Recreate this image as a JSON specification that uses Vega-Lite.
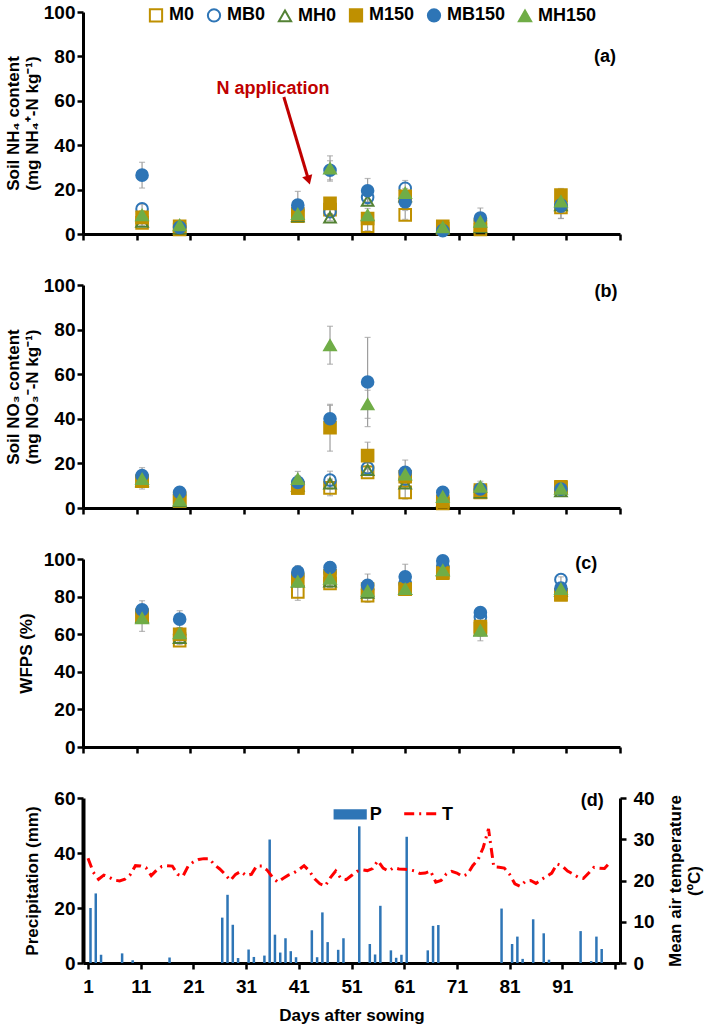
{
  "$schema": "https://vega.github.io/schema/vega-lite/v6.json",
  "background": "white",
  "padding": {"left": 4, "top": 3, "right": 1, "bottom": 1},
  "config": {
    "view": {"stroke": null},
    "font": "Liberation Sans",
    "concat": {"spacing": 32},
    "axis": {
      "labelFont": "Liberation Sans",
      "labelFontWeight": "bold", "labelFontSize": 19, "labelColor": "black",
      "titleFont": "Liberation Sans",
      "titleFontWeight": "bold", "titleFontSize": 17, "titleColor": "black",
      "domainColor": "black", "domainWidth": 3, "tickColor": "black",
      "tickWidth": 2.5, "tickSize": 6, "grid": false, "labelPadding": 2
    },
    "legend": {
      "labelFont": "Liberation Sans",
      "labelFontWeight": "bold", "labelFontSize": 18, "labelColor": "black"
    }
  },
  "resolve": {"legend": {"shape": "independent", "fill": "independent", "stroke": "independent"}},
  "datasets": {
    "nh4": [
      {"day":12,"series":"M0","val":5,"err":1.5},{"day":19,"series":"M0","val":2,"err":1},{"day":41,"series":"M0","val":8,"err":2},{"day":47,"series":"M0","val":11,"err":2},{"day":54,"series":"M0","val":3.5,"err":2},{"day":61,"series":"M0","val":8.6,"err":2},{"day":68,"series":"M0","val":2.5,"err":0.8},{"day":75,"series":"M0","val":2,"err":1},{"day":90,"series":"M0","val":12,"err":5},
      {"day":12,"series":"MB0","val":11.3,"err":2},{"day":19,"series":"MB0","val":3,"err":1},{"day":41,"series":"MB0","val":11,"err":2},{"day":47,"series":"MB0","val":10,"err":2},{"day":54,"series":"MB0","val":16.5,"err":2},{"day":61,"series":"MB0","val":20.6,"err":3.5},{"day":68,"series":"MB0","val":2,"err":0.8},{"day":75,"series":"MB0","val":6,"err":2},{"day":90,"series":"MB0","val":12.5,"err":3},
      {"day":12,"series":"MH0","val":5.5,"err":1.5},{"day":19,"series":"MH0","val":2.5,"err":1},{"day":41,"series":"MH0","val":8,"err":2},{"day":47,"series":"MH0","val":7.5,"err":1.5},{"day":54,"series":"MH0","val":15,"err":2},{"day":61,"series":"MH0","val":17,"err":2},{"day":68,"series":"MH0","val":2.5,"err":0.8},{"day":75,"series":"MH0","val":3,"err":1},{"day":90,"series":"MH0","val":13,"err":2},
      {"day":12,"series":"M150","val":7.5,"err":2.5},{"day":19,"series":"M150","val":3.5,"err":1.5},{"day":41,"series":"M150","val":9,"err":2.5},{"day":47,"series":"M150","val":13.8,"err":2},{"day":54,"series":"M150","val":7,"err":2},{"day":61,"series":"M150","val":17,"err":2},{"day":68,"series":"M150","val":3.5,"err":1},{"day":75,"series":"M150","val":4,"err":1.5},{"day":90,"series":"M150","val":17.5,"err":3},
      {"day":12,"series":"MB150","val":26.5,"err":5.8},{"day":19,"series":"MB150","val":3,"err":1},{"day":41,"series":"MB150","val":13,"err":6.2},{"day":47,"series":"MB150","val":28.7,"err":4.3},{"day":54,"series":"MB150","val":19.5,"err":5.5},{"day":61,"series":"MB150","val":14.5,"err":3},{"day":68,"series":"MB150","val":1.5,"err":0.8},{"day":75,"series":"MB150","val":7.2,"err":4.5},{"day":90,"series":"MB150","val":13,"err":6},
      {"day":12,"series":"MH150","val":8.5,"err":2},{"day":19,"series":"MH150","val":4,"err":1.5},{"day":41,"series":"MH150","val":9,"err":3},{"day":47,"series":"MH150","val":29.5,"err":5.7},{"day":54,"series":"MH150","val":8.5,"err":3},{"day":61,"series":"MH150","val":18.5,"err":2},{"day":68,"series":"MH150","val":3,"err":1.5},{"day":75,"series":"MH150","val":5.5,"err":2},{"day":90,"series":"MH150","val":14.7,"err":2}
    ],
    "no3": [
      {"day":12,"series":"M0","val":12,"err":2},{"day":19,"series":"M0","val":3,"err":1},{"day":41,"series":"M0","val":9,"err":2},{"day":47,"series":"M0","val":9,"err":3.5},{"day":54,"series":"M0","val":16,"err":1.5},{"day":61,"series":"M0","val":7,"err":3},{"day":68,"series":"M0","val":2,"err":1},{"day":75,"series":"M0","val":7,"err":1.5},{"day":90,"series":"M0","val":9,"err":2},
      {"day":12,"series":"MB0","val":14,"err":2},{"day":19,"series":"MB0","val":6,"err":1},{"day":41,"series":"MB0","val":11,"err":2},{"day":47,"series":"MB0","val":12.5,"err":4},{"day":54,"series":"MB0","val":18,"err":2},{"day":61,"series":"MB0","val":13,"err":3},{"day":68,"series":"MB0","val":4,"err":1},{"day":75,"series":"MB0","val":8,"err":2},{"day":90,"series":"MB0","val":8.5,"err":2},
      {"day":12,"series":"MH0","val":12,"err":2},{"day":19,"series":"MH0","val":3,"err":1},{"day":41,"series":"MH0","val":10,"err":2},{"day":47,"series":"MH0","val":11,"err":2},{"day":54,"series":"MH0","val":17,"err":2},{"day":61,"series":"MH0","val":11,"err":2},{"day":68,"series":"MH0","val":3,"err":1},{"day":75,"series":"MH0","val":7,"err":1.5},{"day":90,"series":"MH0","val":7.5,"err":1.5},
      {"day":12,"series":"M150","val":12,"err":3.5},{"day":19,"series":"M150","val":4.5,"err":1.5},{"day":41,"series":"M150","val":9,"err":2},{"day":47,"series":"M150","val":36,"err":10.5},{"day":54,"series":"M150","val":23.5,"err":6},{"day":61,"series":"M150","val":14,"err":3},{"day":68,"series":"M150","val":3,"err":1},{"day":75,"series":"M150","val":8,"err":2},{"day":90,"series":"M150","val":9.5,"err":2},
      {"day":12,"series":"MB150","val":14.5,"err":3.6},{"day":19,"series":"MB150","val":7,"err":1},{"day":41,"series":"MB150","val":11.5,"err":3},{"day":47,"series":"MB150","val":40,"err":6},{"day":54,"series":"MB150","val":56.5,"err":20},{"day":61,"series":"MB150","val":16,"err":5.5},{"day":68,"series":"MB150","val":7,"err":1.5},{"day":75,"series":"MB150","val":8.5,"err":2},{"day":90,"series":"MB150","val":8.5,"err":2},
      {"day":12,"series":"MH150","val":13,"err":3},{"day":19,"series":"MH150","val":3.5,"err":1},{"day":41,"series":"MH150","val":13,"err":3.4},{"day":47,"series":"MH150","val":73,"err":8.5},{"day":54,"series":"MH150","val":46.5,"err":6.3},{"day":61,"series":"MH150","val":15,"err":3},{"day":68,"series":"MH150","val":5,"err":1.5},{"day":75,"series":"MH150","val":9.5,"err":2.5},{"day":90,"series":"MH150","val":8.7,"err":2}
    ],
    "wfps": [
      {"day":12,"series":"M0","val":70,"err":3},{"day":19,"series":"M0","val":56.5,"err":2},{"day":41,"series":"M0","val":82.5,"err":4.5},{"day":47,"series":"M0","val":87,"err":2},{"day":54,"series":"M0","val":80.5,"err":3.5},{"day":61,"series":"M0","val":84,"err":3},{"day":68,"series":"M0","val":93,"err":1.5},{"day":75,"series":"M0","val":63,"err":3},{"day":90,"series":"M0","val":81,"err":1.5},
      {"day":12,"series":"MB0","val":72,"err":3},{"day":19,"series":"MB0","val":60,"err":3},{"day":41,"series":"MB0","val":91,"err":3},{"day":47,"series":"MB0","val":93,"err":3},{"day":54,"series":"MB0","val":84,"err":3},{"day":61,"series":"MB0","val":87,"err":3},{"day":68,"series":"MB0","val":96,"err":1.5},{"day":75,"series":"MB0","val":69,"err":3},{"day":90,"series":"MB0","val":89,"err":1.5},
      {"day":12,"series":"MH0","val":69,"err":3},{"day":19,"series":"MH0","val":58,"err":2},{"day":41,"series":"MH0","val":88,"err":2},{"day":47,"series":"MH0","val":88,"err":2},{"day":54,"series":"MH0","val":82,"err":3},{"day":61,"series":"MH0","val":84,"err":3},{"day":68,"series":"MH0","val":94,"err":1.5},{"day":75,"series":"MH0","val":62,"err":3},{"day":90,"series":"MH0","val":83,"err":1.5},
      {"day":12,"series":"M150","val":70,"err":4},{"day":19,"series":"M150","val":60,"err":3},{"day":41,"series":"M150","val":89,"err":3},{"day":47,"series":"M150","val":91,"err":3},{"day":54,"series":"M150","val":84,"err":3},{"day":61,"series":"M150","val":84,"err":3},{"day":68,"series":"M150","val":92.5,"err":1.5},{"day":75,"series":"M150","val":64,"err":3},{"day":90,"series":"M150","val":81,"err":1.5},
      {"day":12,"series":"MB150","val":73,"err":4.8},{"day":19,"series":"MB150","val":68,"err":4.5},{"day":41,"series":"MB150","val":93,"err":3.5},{"day":47,"series":"MB150","val":95.5,"err":3},{"day":54,"series":"MB150","val":86,"err":6},{"day":61,"series":"MB150","val":90.5,"err":6.7},{"day":68,"series":"MB150","val":99,"err":1},{"day":75,"series":"MB150","val":71.5,"err":2},{"day":90,"series":"MB150","val":84.5,"err":2},
      {"day":12,"series":"MH150","val":68.5,"err":7},{"day":19,"series":"MH150","val":60.5,"err":3},{"day":41,"series":"MH150","val":88,"err":3},{"day":47,"series":"MH150","val":89.5,"err":4.5},{"day":54,"series":"MH150","val":83,"err":3},{"day":61,"series":"MH150","val":84,"err":3},{"day":68,"series":"MH150","val":94,"err":2},{"day":75,"series":"MH150","val":62,"err":5.5},{"day":90,"series":"MH150","val":84,"err":2}
    ],
    "precip": [
      {"day":1,"val":20},{"day":2,"val":25.3},{"day":3,"val":3},{"day":7,"val":3.5},{"day":9,"val":1},{"day":16,"val":2},{"day":26,"val":16.5},{"day":27,"val":24.8},{"day":28,"val":13.9},{"day":29,"val":1.8},{"day":31,"val":4.9},{"day":32,"val":2.2},{"day":34,"val":2.7},{"day":35,"val":44.9},{"day":36,"val":10.3},{"day":37,"val":3.8},{"day":38,"val":9},{"day":39,"val":4.3},{"day":40,"val":2.1},{"day":43,"val":11.9},{"day":44,"val":2.1},{"day":45,"val":18.4},{"day":46,"val":7.6},{"day":48,"val":4.8},{"day":49,"val":9},{"day":52,"val":49.7},{"day":54,"val":6.9},{"day":55,"val":3.1},{"day":56,"val":20.8},{"day":58,"val":4.6},{"day":59,"val":1.9},{"day":60,"val":3},{"day":61,"val":45.9},{"day":65,"val":4.6},{"day":66,"val":13.5},{"day":67,"val":13.8},{"day":79,"val":19.8},{"day":81,"val":6.9},{"day":82,"val":9.6},{"day":83,"val":1.5},{"day":85,"val":15.9},{"day":87,"val":10.8},{"day":88,"val":1.2},{"day":94,"val":11.6},{"day":96,"val":0.7},{"day":97,"val":9.6},{"day":98,"val":5.1}
    ],
    "temp": [
      {"day":1,"t":25.4},{"day":2,"t":22},{"day":3,"t":20.3},{"day":4,"t":21.3},{"day":5,"t":20.8},{"day":6,"t":20.1},{"day":7,"t":19.9},{"day":8,"t":20.3},{"day":9,"t":21.4},{"day":10,"t":23.6},
      {"day":11,"t":23.5},{"day":12,"t":23.1},{"day":13,"t":21.2},{"day":14,"t":22.5},{"day":15,"t":23.4},{"day":16,"t":23.6},{"day":17,"t":23.5},{"day":18,"t":21.5},{"day":19,"t":21},{"day":20,"t":23.5},
      {"day":21,"t":24.5},{"day":22,"t":25.1},{"day":23,"t":25.3},{"day":24,"t":25.3},{"day":25,"t":23.8},{"day":26,"t":22.8},{"day":27,"t":21.5},{"day":28,"t":20},{"day":29,"t":21.5},{"day":30,"t":22.2},
      {"day":31,"t":21.2},{"day":32,"t":21.5},{"day":33,"t":23.5},{"day":34,"t":23.5},{"day":35,"t":22.5},{"day":36,"t":20.8},{"day":37,"t":19.6},{"day":38,"t":20.5},{"day":39,"t":21.3},{"day":40,"t":21.8},
      {"day":41,"t":22.6},{"day":42,"t":23.6},{"day":43,"t":22.3},{"day":44,"t":20.4},{"day":45,"t":19.2},{"day":46,"t":18.7},{"day":47,"t":20.7},{"day":48,"t":22.3},{"day":49,"t":20.5},{"day":50,"t":20.2},
      {"day":51,"t":21.2},{"day":52,"t":22.2},{"day":53,"t":22.6},{"day":54,"t":22.4},{"day":55,"t":22.9},{"day":56,"t":24.8},{"day":57,"t":23},{"day":58,"t":22.3},{"day":59,"t":23.1},{"day":60,"t":22.8},
      {"day":61,"t":22.7},{"day":62,"t":22.6},{"day":63,"t":22.3},{"day":64,"t":21.7},{"day":65,"t":21.8},{"day":66,"t":22.3},{"day":67,"t":19.6},{"day":68,"t":20},{"day":69,"t":21.6},{"day":70,"t":22.2},
      {"day":71,"t":21.8},{"day":72,"t":21},{"day":73,"t":21.5},{"day":74,"t":23.6},{"day":75,"t":25},{"day":76,"t":28},{"day":77,"t":32.5},{"day":78,"t":23.3},{"day":79,"t":23.2},{"day":80,"t":23},
      {"day":81,"t":21.5},{"day":82,"t":19.2},{"day":83,"t":18.6},{"day":84,"t":19.8},{"day":85,"t":20},{"day":86,"t":19.3},{"day":87,"t":20.2},{"day":88,"t":21},{"day":89,"t":21.8},{"day":90,"t":24},
      {"day":91,"t":23.5},{"day":92,"t":22.3},{"day":93,"t":21.6},{"day":94,"t":20.8},{"day":95,"t":20.5},{"day":96,"t":21.8},{"day":97,"t":23.2},{"day":98,"t":23},{"day":99,"t":22.9},{"day":100,"t":24.3}
    ]
  },
  "vconcat": [
    {
      "width": 537, "height": 222,
      "encoding": {
        "x": {"field": "day", "type": "quantitative", "scale": {"domain": [1, 101], "nice": false, "zero": false},
              "axis": {"values": [1,11,21,31,41,51,61,71,81,91,101], "labels": false, "title": null}},
        "y": {"field": "val", "type": "quantitative", "scale": {"domain": [0, 100], "nice": false},
              "axis": {"values": [0,20,40,60,80,100], "title": ["Soil NH₄ content", "(mg NH₄⁺-N kg⁻¹)"], "titlePadding": 2}}
      },
      "layer": [
        {"data": {"name": "nh4"}, "mark": {"type": "errorbar", "ticks": true, "size": 6, "thickness": 1.2, "color": "#9E9E9E"},
         "encoding": {"yError": {"field": "err"}}},
        {"data": {"name": "nh4"}, "mark": {"type": "point", "size": 135, "strokeWidth": 2, "opacity": 1},
         "encoding": {
           "shape": {"field": "series", "type": "nominal", "sort": null, "scale": {"domain": ["M0","MB0","MH0","M150","MB150","MH150"], "range": ["square","circle","triangle-up","square","circle","triangle-up"]},
                     "legend": {"orient": "none", "legendX": 64, "legendY": -6, "direction": "horizontal", "title": null, "symbolSize": 150, "symbolStrokeWidth": 2, "columnPadding": 8, "labelOffset": 4}},
           "stroke": {"field": "series", "type": "nominal", "sort": null, "scale": {"domain": ["M0","MB0","MH0","M150","MB150","MH150"], "range": ["#BF9000","#2E75B6","#548235","#BF9000","#2E75B6","#70AD47"]},
                     "legend": {"orient": "none", "legendX": 64, "legendY": -6, "direction": "horizontal", "title": null, "symbolSize": 150, "symbolStrokeWidth": 2, "columnPadding": 8, "labelOffset": 4}},
           "fill": {"field": "series", "type": "nominal", "sort": null, "scale": {"domain": ["M0","MB0","MH0","M150","MB150","MH150"], "range": ["transparent","transparent","transparent","#BF9000","#2E75B6","#70AD47"]},
                     "legend": {"orient": "none", "legendX": 64, "legendY": -6, "direction": "horizontal", "title": null, "symbolSize": 150, "symbolStrokeWidth": 2, "columnPadding": 8, "labelOffset": 4}}
         }},
        {"data": {"values": [{"day": 98.2, "val": 79.8, "txt": "(a)"}]},
         "mark": {"type": "text", "fontWeight": "bold", "fontSize": 18, "color": "black"},
         "encoding": {"text": {"field": "txt"}}},
        {"data": {"values": [{"day": 36.4, "val": 65.4, "txt": "N application"}]},
         "mark": {"type": "text", "fontWeight": "bold", "fontSize": 18, "color": "#C00000"},
         "encoding": {"text": {"field": "txt"}}},
        {"data": {"values": [{"day": 38.4, "val": 61.7, "day2": 42.8, "val2": 26}]},
         "mark": {"type": "rule", "color": "#C00000", "strokeWidth": 3},
         "encoding": {"x2": {"field": "day2"}, "y2": {"field": "val2"}}},
        {"data": {"values": [{"day": 43.0, "val": 24.3}]},
         "mark": {"type": "point", "shape": "triangle-down", "filled": true, "color": "#C00000", "size": 110, "angle": 343, "opacity": 1},
         "encoding": {}}
      ]
    },
    {
      "width": 537, "height": 223,
      "encoding": {
        "x": {"field": "day", "type": "quantitative", "scale": {"domain": [1, 101], "nice": false, "zero": false},
              "axis": {"values": [1,11,21,31,41,51,61,71,81,91,101], "labels": false, "title": null}},
        "y": {"field": "val", "type": "quantitative", "scale": {"domain": [0, 100], "nice": false},
              "axis": {"values": [0,20,40,60,80,100], "title": ["Soil NO₃ content", "(mg NO₃⁻-N kg⁻¹)"], "titlePadding": 2}}
      },
      "layer": [
        {"data": {"name": "no3"}, "mark": {"type": "errorbar", "ticks": true, "size": 6, "thickness": 1.2, "color": "#9E9E9E"},
         "encoding": {"yError": {"field": "err"}}},
        {"data": {"name": "no3"}, "mark": {"type": "point", "size": 135, "strokeWidth": 2, "opacity": 1},
         "encoding": {
           "shape": {"field": "series", "type": "nominal", "sort": null, "scale": {"domain": ["M0","MB0","MH0","M150","MB150","MH150"], "range": ["square","circle","triangle-up","square","circle","triangle-up"]}, "legend": null},
           "stroke": {"field": "series", "type": "nominal", "sort": null, "scale": {"domain": ["M0","MB0","MH0","M150","MB150","MH150"], "range": ["#BF9000","#2E75B6","#548235","#BF9000","#2E75B6","#70AD47"]}, "legend": null},
           "fill": {"field": "series", "type": "nominal", "sort": null, "scale": {"domain": ["M0","MB0","MH0","M150","MB150","MH150"], "range": ["transparent","transparent","transparent","#BF9000","#2E75B6","#70AD47"]}, "legend": null}
         }},
        {"data": {"values": [{"day": 98.4, "val": 97, "txt": "(b)"}]},
         "mark": {"type": "text", "fontWeight": "bold", "fontSize": 18, "color": "black"},
         "encoding": {"text": {"field": "txt"}}}
      ]
    },
    {
      "width": 537, "height": 188,
      "encoding": {
        "x": {"field": "day", "type": "quantitative", "scale": {"domain": [1, 101], "nice": false, "zero": false},
              "axis": {"values": [1,11,21,31,41,51,61,71,81,91,101], "labels": false, "title": null}},
        "y": {"field": "val", "type": "quantitative", "scale": {"domain": [0, 100], "nice": false},
              "axis": {"values": [0,20,40,60,80,100], "title": "WFPS (%)", "titlePadding": 8}}
      },
      "layer": [
        {"data": {"name": "wfps"}, "mark": {"type": "errorbar", "ticks": true, "size": 6, "thickness": 1.2, "color": "#9E9E9E"},
         "encoding": {"yError": {"field": "err"}}},
        {"data": {"name": "wfps"}, "mark": {"type": "point", "size": 135, "strokeWidth": 2, "opacity": 1},
         "encoding": {
           "shape": {"field": "series", "type": "nominal", "sort": null, "scale": {"domain": ["M0","MB0","MH0","M150","MB150","MH150"], "range": ["square","circle","triangle-up","square","circle","triangle-up"]}, "legend": null},
           "stroke": {"field": "series", "type": "nominal", "sort": null, "scale": {"domain": ["M0","MB0","MH0","M150","MB150","MH150"], "range": ["#BF9000","#2E75B6","#548235","#BF9000","#2E75B6","#70AD47"]}, "legend": null},
           "fill": {"field": "series", "type": "nominal", "sort": null, "scale": {"domain": ["M0","MB0","MH0","M150","MB150","MH150"], "range": ["transparent","transparent","transparent","#BF9000","#2E75B6","#70AD47"]}, "legend": null}
         }},
        {"data": {"values": [{"day": 94.7, "val": 97.3, "txt": "(c)"}]},
         "mark": {"type": "text", "fontWeight": "bold", "fontSize": 18, "color": "black"},
         "encoding": {"text": {"field": "txt"}}}
      ]
    },
    {
      "width": 537, "height": 165,
      "resolve": {"scale": {"y": "independent"}},
      "layer": [
        {
          "encoding": {
            "x": {"field": "day", "type": "quantitative", "scale": {"domain": [1, 101], "nice": false, "zero": false},
                  "axis": {"values": [1,11,21,31,41,51,61,71,81,91,101], "labelExpr": "datum.value > 100 ? '' : datum.label", "title": "Days after sowing", "labelPadding": 8, "titlePadding": 11}},
            "y": {"field": "val", "type": "quantitative", "scale": {"domain": [0, 60], "nice": false},
                  "axis": {"values": [0,20,40,60], "title": "Precipitation (mm)", "titlePadding": 12, "domainWidth": 4}}
          },
          "layer": [
            {"data": {"name": "precip"}, "mark": {"type": "bar", "color": "#2E75B6", "size": 2.5, "xOffset": 2.5}},
            {"data": {"values": [{"day": 47.6, "day2": 53.9, "val": 52.2, "val2": 55.9}]},
             "mark": {"type": "rect", "color": "#2E75B6"},
             "encoding": {"x2": {"field": "day2"}, "y2": {"field": "val2"}}},
            {"data": {"values": [{"day": 55.6, "val": 54, "txt": "P"}, {"day": 69.2, "val": 54, "txt": "T"}, {"day": 96.7, "val": 58.9, "txt": "(d)"}]},
             "mark": {"type": "text", "fontWeight": "bold", "fontSize": 18, "color": "black"},
             "encoding": {"text": {"field": "txt"}}}
          ]
        },
        {
          "encoding": {
            "x": {"field": "day", "type": "quantitative", "scale": {"domain": [1, 101], "nice": false, "zero": false}},
            "y": {"field": "t", "type": "quantitative", "scale": {"domain": [0, 40], "nice": false},
                  "axis": {"orient": "right", "values": [0,10,20,30,40], "title": ["Mean air temperature", "(ºC)"], "titleAngle": 270, "titlePadding": 11, "labelPadding": 7, "titleAlign": "center"}}
          },
          "layer": [
            {"data": {"name": "temp"}, "mark": {"type": "line", "color": "#FF0000", "strokeWidth": 3, "strokeDash": [10, 5, 2, 5]}},
            {"data": {"values": [{"day": 61, "day2": 67.5, "t": 36.2}]},
             "mark": {"type": "rule", "color": "#FF0000", "strokeWidth": 3, "strokeDash": [10, 5, 2, 5]},
             "encoding": {"x2": {"field": "day2"}}}
          ]
        }
      ]
    }
  ]
}
